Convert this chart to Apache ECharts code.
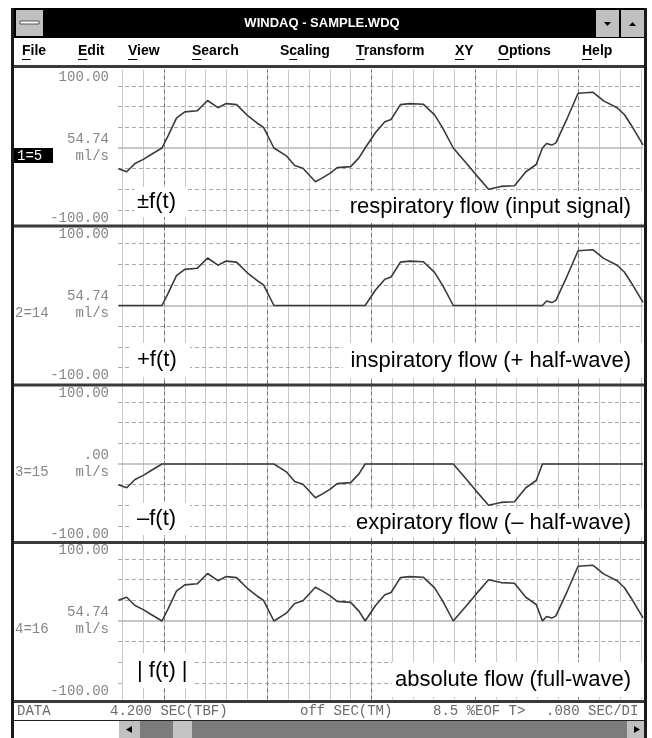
<!DOCTYPE html>
<html>
<head>
<meta charset="utf-8">
<script src="https://cdn.jsdelivr.net/npm/echarts@6/dist/echarts.min.js"></script>
<style>
html, body { margin: 0; padding: 0; background: #fff; }
#chart { width: 652px; height: 738px; }
</style>
</head>
<body>
<div id="chart"></div>
<script>
// time in screen divisions, flow in divisions from the zero line
const t = [-0.2, 0.2, 0.6, 1.0, 1.4, 1.9, 2.2, 2.6, 3.0, 3.6, 4.1, 4.6, 5.0, 5.5, 6.05, 6.5, 6.8, 7.3,
  7.9, 8.3, 8.7, 9.3, 9.6, 10.0, 10.35, 11.0, 11.4, 11.7, 12.2, 12.65, 12.95, 13.4, 13.85, 14.5, 15.05,
  15.45, 15.95, 16.55, 17.05, 17.65, 18.25, 18.9, 19.45, 19.95, 20.25, 20.45, 20.7, 20.9, 21.45, 21.97,
  22.68, 23.2, 23.85, 24.2, 24.55, 25.1]
const flow = [-1.0, -1.15, -0.75, -0.55, -0.3, 0, 0.6, 1.45, 1.75, 1.8, 2.3, 1.95, 2.15, 2.1, 1.55, 1.2, 1.0, 0,
  -0.38, -0.85, -0.98, -1.63, -1.47, -1.23, -0.95, -0.9, -0.48, 0, 0.75, 1.27, 1.38, 2.1, 2.15, 2.12, 1.6,
  0.95, 0, -0.7, -1.3, -2.0, -1.86, -1.83, -1.15, -0.8, 0, 0.22, 0.14, 0.25, 1.45, 2.65,
  2.7, 2.28, 1.95, 1.62, 1.08, 0.15]
const inspFlow = [0, 0, 0, 0, 0, 0, 0.6, 1.45, 1.75, 1.8, 2.3, 1.95, 2.15, 2.1, 1.55, 1.2, 1.0, 0,
  0, 0, 0, 0, 0, 0, 0, 0, 0, 0, 0.75, 1.27, 1.38, 2.1, 2.15, 2.12, 1.6,
  0.95, 0, 0, 0, 0, 0, 0, 0, 0, 0, 0.22, 0.14, 0.25, 1.45, 2.65,
  2.7, 2.28, 1.95, 1.62, 1.08, 0.15]
const expFlow = [-1.0, -1.15, -0.75, -0.55, -0.3, 0, 0, 0, 0, 0, 0, 0, 0, 0, 0, 0, 0, 0,
  -0.38, -0.85, -0.98, -1.63, -1.47, -1.23, -0.95, -0.9, -0.48, 0, 0, 0, 0, 0, 0, 0, 0,
  0, 0, -0.7, -1.3, -2.0, -1.86, -1.83, -1.15, -0.8, 0, 0, 0, 0, 0, 0,
  0, 0, 0, 0, 0, 0]
const absFlow = [1.0, 1.15, 0.75, 0.55, 0.3, 0, 0.6, 1.45, 1.75, 1.8, 2.3, 1.95, 2.15, 2.1, 1.55, 1.2, 1.0, 0,
  0.38, 0.85, 0.98, 1.63, 1.47, 1.23, 0.95, 0.9, 0.48, 0, 0.75, 1.27, 1.38, 2.1, 2.15, 2.12, 1.6,
  0.95, 0, 0.7, 1.3, 2.0, 1.86, 1.83, 1.15, 0.8, 0, 0.22, 0.14, 0.25, 1.45, 2.65,
  2.7, 2.28, 1.95, 1.62, 1.08, 0.15]

const gridMinorX = [0, 1, 2, 3, 4, 5, 6, 7, 8, 9, 10, 11, 12, 13, 14, 15, 16, 17, 18, 19, 20, 21, 22, 23, 24, 25]
const gridMajorX = [2, 7, 12, 17, 22]
const gridY = [-3, -2, -1, 1, 2, 3]

const symbols = ['±f(t)', '+f(t)', '–f(t)', '| f(t) |']
const captions = ['respiratory flow (input signal)', 'inspiratory flow (+ half-wave)',
  'expiratory flow (– half-wave)', 'absolute flow (full-wave)']
const channels = ['1=5', '2=14', '3=15', '4=16']
const midValues = ['54.74', '54.74', '.00', '54.74']
const topLabel = '100.00'
const bottomLabel = '-100.00'
const unitLabel = 'ml/s'
const menuItems = ['File', 'Edit', 'View', 'Search', 'Scaling', 'Transform', 'XY', 'Options', 'Help']
const menuHotkey = [0, 0, 0, 0, 1, 0, 0, 0, 0]
const statusItems = ['DATA', '4.200 SEC(TBF)', 'off SEC(TM)', '8.5 %EOF T>', '.080 SEC/DI']

// layout
const panelCenter = [148, 305.5, 464, 621]
const panelHalf = 78.5
const plotLeft = 118
const plotRight = 643
const separators = [65, 224.5, 383.5, 541, 700]
const menuX = [22, 78, 128, 192, 280, 356, 455, 498, 582]
const statusX = [17, 110, 300, 433, 546]
const symbolBox = [[134, 187, 54, 30], [132, 343, 58, 34], [132, 503, 58, 32], [123, 653, 72, 35]]
const captionBox = [[340, 191, 305, 32], [343, 343, 302, 35], [350, 509, 295, 28], [392, 662, 250, 35]]

const traces = [flow, inspFlow, expFlow, absFlow]
const monoFont = '14px "Liberation Mono"'
const labelFont = '22px "Liberation Sans"'
const menuFont = 'bold 14px "Liberation Sans"'
const scaleColor = '#858585'

const chart = echarts.init(document.getElementById('chart'))
const measure = document.createElement('canvas').getContext('2d')
measure.font = menuFont

const grids = []
const xAxes = []
const yAxes = []
const series = []
const graphics = []

const text = (x, y, s, font, fill, align, z) => ({
  type: 'text', x, y, silent: true, z: z || 50,
  style: { text: s, font, fill, align: align || 'left', verticalAlign: 'middle' }
})
const rect = (x, y, w, h, fill, z, stroke) => ({
  type: 'rect', silent: true, z: z || 40,
  shape: { x, y, width: w, height: h },
  style: { fill, stroke: stroke || null, lineWidth: 1 }
})

panelCenter.forEach((c, i) => {
  grids.push({ left: plotLeft, width: plotRight - plotLeft, top: c - panelHalf, height: panelHalf * 2 })
  xAxes.push({ gridIndex: i, type: 'value', min: -0.22, max: 25.1, show: false })
  yAxes.push({ gridIndex: i, type: 'value', min: -3.8, max: 3.8, show: false })

  const lines = []
  gridMinorX.forEach(v => lines.push({ xAxis: v, lineStyle: { color: '#c8c8c8', width: 1, type: 'solid' } }))
  gridMajorX.forEach(v => lines.push({ xAxis: v, lineStyle: { color: '#747474', width: 1, type: [4, 3] } }))
  gridY.forEach(v => lines.push({ yAxis: v, lineStyle: { color: '#a8a8a8', width: 1, type: [4, 3] } }))
  lines.push({ yAxis: 0, lineStyle: { color: '#b4b4b4', width: 1.5, type: 'solid' } })

  series.push({
    type: 'line', xAxisIndex: i, yAxisIndex: i, data: [], silent: true, z: 1,
    markLine: { silent: true, symbol: ['none', 'none'], label: { show: false },
      emphasis: { disabled: true }, animation: false, data: lines }
  })
  series.push({
    type: 'line', xAxisIndex: i, yAxisIndex: i, z: 5, silent: true,
    showSymbol: false,
    data: t.map((x, k) => [x, traces[i][k]]),
    lineStyle: { color: '#3a3a3a', width: 1.6 }
  })

  // left scale labels
  graphics.push(text(109, c - 71, topLabel, monoFont, scaleColor, 'right'))
  graphics.push(text(109, c - 9, midValues[i], monoFont, scaleColor, 'right'))
  graphics.push(text(109, c + 8, unitLabel, monoFont, scaleColor, 'right'))
  graphics.push(text(109, c + 70, bottomLabel, monoFont, scaleColor, 'right'))
  if (i === 0) {
    graphics.push(rect(14, c, 39, 15, '#000', 45))
    graphics.push(text(17, c + 8, channels[i], monoFont, '#fff', 'left', 50))
  } else {
    graphics.push(text(15, c + 8, channels[i], monoFont, scaleColor))
  }

  // annotation boxes
  const sb = symbolBox[i]
  graphics.push(rect(sb[0], sb[1], sb[2], sb[3], '#fff', 60))
  graphics.push(text(137, sb[1] + sb[3] / 2, symbols[i], labelFont, '#000', 'left', 61))
  const cb = captionBox[i]
  graphics.push(rect(cb[0], cb[1], cb[2], cb[3], '#fff', 60))
  graphics.push(text(631, cb[1] + cb[3] / 2, captions[i], labelFont, '#000', 'right', 61))
})

// panel separators
separators.forEach(y => graphics.push(rect(13, y, 633, 3, '#3a3a3a', 70)))

// title bar
graphics.push(rect(12, 8, 635, 30, '#000', 70))
graphics.push(rect(16, 10, 27, 26, '#c0c0c0', 71))
graphics.push(rect(20, 21, 19, 3, '#fff', 72, '#555'))
graphics.push(rect(596, 10, 23, 27, '#c0c0c0', 71))
graphics.push(rect(621, 10, 23, 27, '#c0c0c0', 71))
graphics.push({ type: 'polygon', silent: true, z: 72, shape: { points: [[604, 22], [611, 22], [607.5, 26]] }, style: { fill: '#000' } })
graphics.push({ type: 'polygon', silent: true, z: 72, shape: { points: [[629, 26], [636, 26], [632.5, 22]] }, style: { fill: '#000' } })
graphics.push(text(322, 23, 'WINDAQ - SAMPLE.WDQ', 'bold 13px "Liberation Sans"', '#fff', 'center', 72))

// menu bar with underlined hot keys
graphics.push(rect(13, 38, 633, 27, '#fff', 70))
menuItems.forEach((m, k) => {
  graphics.push(text(menuX[k], 51.5, m, menuFont, '#000', 'left', 72))
  const h = menuHotkey[k]
  const ux = menuX[k] + measure.measureText(m.slice(0, h)).width
  const uw = measure.measureText(m.charAt(h)).width
  graphics.push(rect(ux, 59, uw, 1, '#000', 72))
})

// status bar and scroll bar
graphics.push(rect(13, 703, 633, 17, '#fff', 70))
statusItems.forEach((s, k) => graphics.push(text(statusX[k], 711.5, s, '14px "Liberation Mono"', '#6a6a6a', 'left', 72)))
graphics.push(rect(13, 720, 633, 1, '#222', 71))
graphics.push(rect(15, 721, 104, 17, '#fff', 71))
graphics.push(rect(119, 721, 21, 17, '#c0c0c0', 71))
graphics.push(rect(140, 721, 487, 17, '#7c7c7c', 71))
graphics.push(rect(173, 721, 19, 17, '#c4c4c4', 72))
graphics.push(rect(627, 721, 19, 17, '#c0c0c0', 71))
graphics.push({ type: 'polygon', silent: true, z: 73, shape: { points: [[126, 729.5], [132, 726], [132, 733]] }, style: { fill: '#000' } })
graphics.push({ type: 'polygon', silent: true, z: 73, shape: { points: [[640, 729.5], [634, 726], [634, 733]] }, style: { fill: '#000' } })

// window frame
graphics.push(rect(11, 8, 3, 730, '#1a1a1a', 80))
graphics.push(rect(644, 8, 3, 730, '#1a1a1a', 80))

chart.setOption({
  animation: false,
  backgroundColor: '#fff',
  grid: grids,
  xAxis: xAxes,
  yAxis: yAxes,
  series,
  graphic: { elements: graphics }
})
</script>
</body>
</html>
